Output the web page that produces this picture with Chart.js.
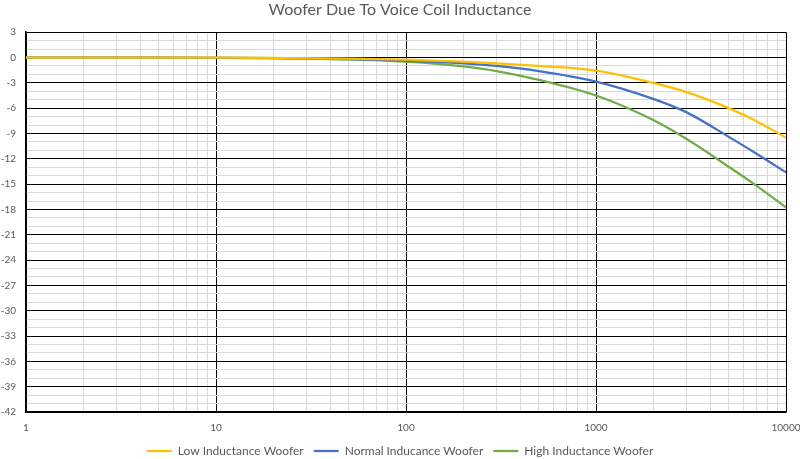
<!DOCTYPE html>
<html>
<head>
<meta charset="utf-8">
<script src="https://cdn.jsdelivr.net/npm/chart.js@4.4.1/dist/chart.umd.min.js"></script>
<style>
  html, body { margin: 0; padding: 0; background: #fff; }
  #wrap { width: 800px; height: 459px; }
</style>
</head>
<body>
<div id="wrap"><canvas id="chart"></canvas></div>
<script>
// frequencies (Hz) and response (dB)
const freqs = [1, 2, 5, 10, 20, 50, 100, 200, 300, 500, 1000, 2000, 3000, 5000, 7000, 10000];
const lowInd = [0, 0, -0.01, -0.02, -0.05, -0.12, -0.25, -0.48, -0.68, -0.99, -1.55, -3.0, -4.1, -6.0, -7.55, -9.5];
const normalInd = [0, 0, -0.01, -0.03, -0.07, -0.18, -0.38, -0.7, -1.0, -1.6, -2.85, -4.9, -6.5, -9.4, -11.4, -13.6];
const highInd = [0, 0, -0.02, -0.04, -0.08, -0.22, -0.5, -1.05, -1.6, -2.65, -4.5, -7.4, -9.65, -12.95, -15.2, -17.75];

const seriesNames = ['Low Inductance Woofer', 'Normal Inducance Woofer', 'High Inductance Woofer'];
const seriesColors = ['#ffc000', '#4472c4', '#70ad47'];

// x grid ticks: 1..9 per decade, labels only on decades
const xTicks = [];
[1, 10, 100, 1000].forEach(d => { for (let i = 1; i < 10; i++) xTicks.push(d * i); });
xTicks.push(10000);

const isDecade = v => Math.abs(Math.log10(v) - Math.round(Math.log10(v))) < 1e-9;

const toPoints = ys => freqs.map((f, i) => ({ x: f, y: ys[i] }));

const font = 'Lato, "Open Sans", sans-serif';

const ctx = document.getElementById('chart').getContext('2d');
new Chart(ctx, {
  type: 'line',
  data: {
    datasets: [lowInd, normalInd, highInd].map((ys, i) => ({
      label: seriesNames[i],
      data: toPoints(ys),
      borderColor: seriesColors[i],
      backgroundColor: seriesColors[i],
      borderWidth: 2.25,
      pointRadius: 0,
      cubicInterpolationMode: 'monotone',
      fill: false,
    })),
  },
  options: {
    responsive: true,
    maintainAspectRatio: false,
    animation: false,
    layout: { padding: { left: 0, right: 0, top: 0, bottom: -8 } },
    plugins: {
      title: {
        display: true,
        text: 'Woofer Due To Voice Coil Inductance',
        color: '#595959',
        font: { family: font, size: 16, weight: 'normal' },
        padding: { top: 0, bottom: 13 },
      },
      legend: {
        position: 'bottom',
        labels: {
          usePointStyle: true,
          pointStyle: 'line',
          pointStyleWidth: 25,
          color: '#595959',
          font: { family: font, size: 12 },
          padding: 10,
        },
      },
      tooltip: { enabled: false },
    },
    scales: {
      x: {
        type: 'logarithmic',
        min: 1,
        max: 10000,
        afterBuildTicks: s => { s.ticks = xTicks.map(v => ({ value: v, major: isDecade(v) })); },
        afterFit: s => { s.height -= 9; s.paddingRight = 14; },
        ticks: {
          autoSkip: false,
          maxRotation: 0,
          color: '#595959',
          font: { family: font, size: 10 },
          padding: 10,
          callback: v => (isDecade(v) ? String(v) : ''),
        },
        grid: {
          color: c => (isDecade(c.tick.value) ? '#000000' : '#d9d9d9'),
          drawTicks: false,
        },
        border: { color: '#000000', width: 1.5 },
      },
      y: {
        min: -42,
        max: 3,
        afterFit: s => { s.width = 26; },
        ticks: {
          stepSize: 1,
          autoSkip: false,
          color: '#595959',
          font: { family: font, size: 10 },
          padding: 10,
          callback: v => (v % 3 === 0 ? String(v) : ''),
        },
        grid: {
          color: c => (c.tick.value % 3 === 0 ? '#000000' : '#d9d9d9'),
          drawTicks: false,
        },
        border: { color: '#000000', width: 1.5 },
      },
    },
  },
});
</script>
</body>
</html>
